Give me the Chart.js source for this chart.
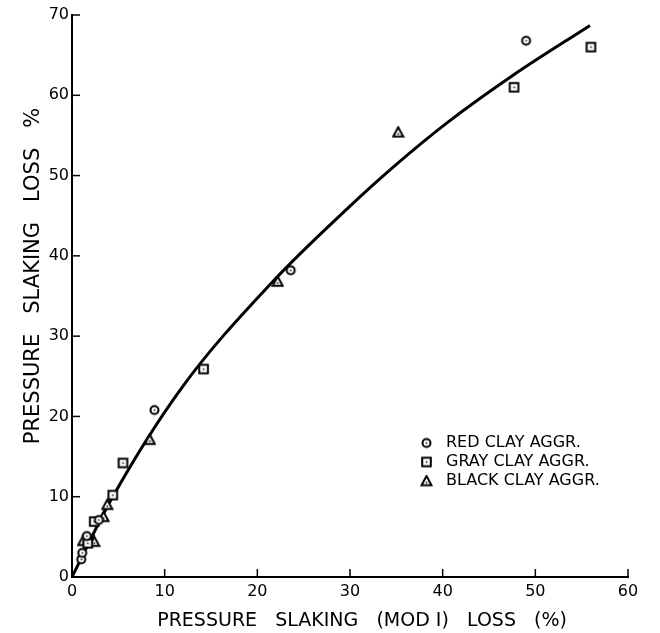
<!DOCTYPE html>
<html>
<head>
<meta charset="utf-8">
<script src="https://cdn.jsdelivr.net/npm/chart.js@4"></script>
<style>
  body { margin: 0; background: #fff; }
  #wrap { width: 660px; height: 633px; }
</style>
</head>
<body>
<div id="wrap"><canvas id="slaking" width="660" height="633"></canvas></div>
<script>
// values
const redX   = [1.0, 1.1, 1.6, 2.9, 8.9, 23.6, 49.0];
const redY   = [2.2, 3.0, 5.1, 7.1, 20.8, 38.2, 66.8];
const grayX  = [1.7, 2.4, 4.4, 5.5, 14.2, 47.7, 56.0];
const grayY  = [4.2, 6.9, 10.2, 14.2, 25.9, 61.0, 66.0];
const blackX = [1.2, 2.4, 3.4, 3.8, 8.4, 22.2, 35.2];
const blackY = [4.5, 4.4, 7.5, 9.0, 17.1, 36.8, 55.4];
const curveX = [0, 4.3, 11.8, 21.5, 30, 34.6, 40.5, 47.6, 55.9];
const curveY = [0, 9.8, 23.5, 36.6, 46.2, 51.0, 56.6, 62.5, 68.7];
const xTicks = [0, 10, 20, 30, 40, 50, 60];
const yTicks = [0, 10, 20, 30, 40, 50, 60, 70];
const seriesNames = ['RED CLAY AGGR.', 'GRAY CLAY AGGR.', 'BLACK CLAY AGGR.'];

const FONT = "'DejaVu Sans', 'Liberation Sans', sans-serif";

function pairs(xs, ys) {
    return xs.map(function(x, i) { return {x: x, y: ys[i]}; });
}

function makeMarker(shape) {
    const c = document.createElement('canvas');
    c.width = 13; c.height = 13;
    const g = c.getContext('2d');
    g.strokeStyle = '#000';
    g.fillStyle = '#fff';
    g.lineWidth = 2;
    g.beginPath();
    if (shape === 'circle') {
        g.arc(6.5, 6.5, 4, 0, Math.PI * 2);
    } else if (shape === 'square') {
        g.rect(2.2, 2.2, 8.6, 8.6);
    } else {
        g.moveTo(6.5, 1.5); g.lineTo(11.5, 10.8); g.lineTo(1.5, 10.8); g.closePath();
    }
    g.fill();
    g.stroke();
    g.fillStyle = '#000';
    g.fillRect(5.8, shape === 'triangle' ? 7.3 : 5.8, 1.5, 1.5);
    return c;
}

const markers = [makeMarker('circle'), makeMarker('square'), makeMarker('triangle')];

// inward tick marks and the legend inside the plot
const innerTicks = {
    id: 'innerTicks',
    afterDraw(chart) {
        const ctx = chart.ctx;
        const xs = chart.scales.x, ys = chart.scales.y;
        const area = chart.chartArea;
        ctx.save();
        ctx.strokeStyle = '#000';
        ctx.lineWidth = 1.5;
        xTicks.forEach(function(v) {
            const px = xs.getPixelForValue(v);
            ctx.beginPath(); ctx.moveTo(px, area.bottom); ctx.lineTo(px, area.bottom - 8); ctx.stroke();
        });
        yTicks.forEach(function(v) {
            const py = ys.getPixelForValue(v);
            ctx.beginPath(); ctx.moveTo(area.left, py); ctx.lineTo(area.left + 8, py); ctx.stroke();
        });

        ctx.fillStyle = '#000';
        ctx.font = '16px ' + FONT;
        ctx.textBaseline = 'middle';
        seriesNames.forEach(function(name, i) {
            const y = 443 + i * 19;
            ctx.drawImage(markers[i], 420, y - 6.5);
            ctx.fillText(name, 446, y);
        });
        ctx.restore();
    }
};

function setupChart() {
    const ctx = document.getElementById('slaking').getContext('2d');
    const scatterBase = { type: 'scatter', pointRadius: 6, pointHoverRadius: 6, showLine: false };
    new Chart(ctx, {
        data: {
            datasets: [
                Object.assign({}, scatterBase, { label: seriesNames[0], data: pairs(redX, redY), pointStyle: markers[0] }),
                Object.assign({}, scatterBase, { label: seriesNames[1], data: pairs(grayX, grayY), pointStyle: markers[1] }),
                Object.assign({}, scatterBase, { label: seriesNames[2], data: pairs(blackX, blackY), pointStyle: markers[2] }),
                {
                    type: 'line',
                    label: 'fit',
                    data: pairs(curveX, curveY),
                    borderColor: '#000',
                    borderWidth: 3,
                    pointRadius: 0,
                    fill: false,
                    cubicInterpolationMode: 'monotone'
                }
            ]
        },
        options: {
            responsive: false,
            animation: false,
            layout: { padding: { top: 15, right: 32, left: 0, bottom: 0 } },
            plugins: {
                legend: { display: false },
                tooltip: { enabled: false }
            },
            scales: {
                x: {
                    type: 'linear',
                    min: 0, max: 60,
                    afterBuildTicks: function(s) { s.ticks = xTicks.map(function(v) { return {value: v}; }); },
                    afterFit: function(s) { s.height = 56; },
                    grid: { display: false, drawTicks: false },
                    border: { display: true, color: '#000', width: 2 },
                    ticks: { color: '#000', padding: 5, font: { family: FONT, size: 16 }, maxRotation: 0 },
                    title: {
                        display: true,
                        text: '    PRESSURE   SLAKING   (MOD I)   LOSS   (%)',
                        color: '#000',
                        font: { family: FONT, size: 19 },
                        padding: { top: 0, bottom: 1 }
                    }
                },
                y: {
                    type: 'linear',
                    min: 0, max: 70,
                    afterBuildTicks: function(s) { s.ticks = yTicks.map(function(v) { return {value: v}; }); },
                    afterFit: function(s) { s.width = 72; },
                    grid: { display: false, drawTicks: false },
                    border: { display: true, color: '#000', width: 2 },
                    ticks: { color: '#000', padding: 3, font: { family: FONT, size: 16 } },
                    title: {
                        display: true,
                        text: '      PRESSURE   SLAKING   LOSS   %',
                        color: '#000',
                        font: { family: FONT, size: 21 },
                        padding: { top: 21, bottom: 0 }
                    }
                }
            }
        },
        plugins: [innerTicks]
    });
}

setupChart();
</script>
</body>
</html>
